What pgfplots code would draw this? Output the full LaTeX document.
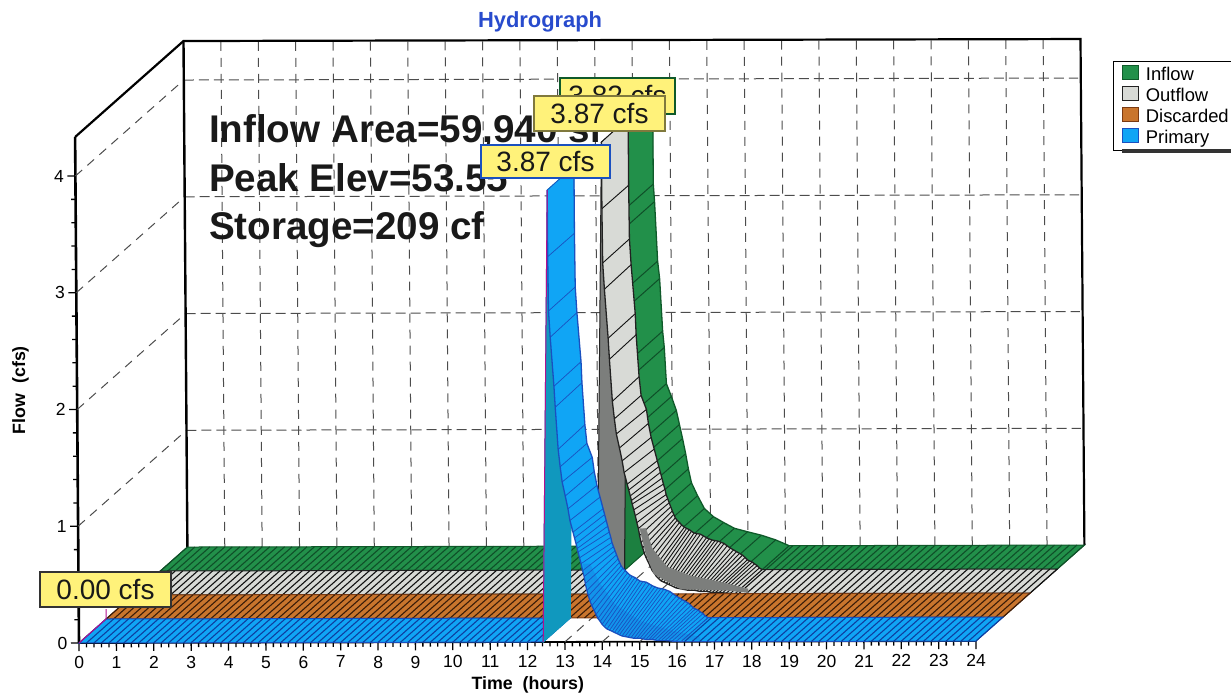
\documentclass[border=0pt]{standalone}
\usepackage{fontspec}
\setmainfont{Liberation Sans}
\usepackage{pgfplots}
\usepackage{pgfplotstable}
\pgfplotsset{compat=1.18}
\usepgfplotslibrary{fillbetween}

\definecolor{greenF}{HTML}{22904A}
\definecolor{greenE}{HTML}{0F5A2A}
\definecolor{greenS}{HTML}{0F4F28}
\definecolor{greenR}{HTML}{1C8040}
\definecolor{grayF}{HTML}{D8DAD6}
\definecolor{grayE}{HTML}{222222}
\definecolor{grayS}{HTML}{111111}
\definecolor{grayR}{HTML}{7C7E7C}
\definecolor{orangeF}{HTML}{C9752D}
\definecolor{orangeE}{HTML}{7A3A12}
\definecolor{orangeS}{HTML}{3A1C08}
\definecolor{blueF}{HTML}{10A5F5}
\definecolor{blueE}{HTML}{1A50C0}
\definecolor{blueS}{HTML}{0D3FA0}
\definecolor{blueR}{HTML}{1098BE}
\definecolor{tagY}{HTML}{FFF27A}

% flat stretches of a ribbon, zero flow
\pgfplotstableread[row sep=\\]{t q\\0 0\\12.42 0\\13.15 .205\\.73 .205\\}\floorleft
\pgfplotstableread[row sep=\\]{t q\\16.1 0\\24 0\\24.73 .205\\16.83 .205\\}\floorright
\pgfplotstableread[row sep=\\]{t q\\0 0\\24 0\\24.73 .205\\.73 .205\\}\floorall
\pgfplotstableread[row sep=\\]{t q\\0 0\\.2 0\\.4 0\\.6 0\\.8 0\\1 0\\1.2 0\\1.4 0\\1.6 0\\1.8 0\\2 0\\2.2 0\\2.4 0\\2.6 0\\2.8 0\\3 0\\3.2 0\\3.4 0\\3.6 0\\3.8 0\\4 0\\4.2 0\\4.4 0\\4.6 0\\4.8 0\\5 0\\5.2 0\\5.4 0\\5.6 0\\5.8 0\\6 0\\6.2 0\\6.4 0\\6.6 0\\6.8 0\\7 0\\7.2 0\\7.4 0\\7.6 0\\7.8 0\\8 0\\8.2 0\\8.4 0\\8.6 0\\8.8 0\\9 0\\9.2 0\\9.4 0\\9.6 0\\9.8 0\\10 0\\10.2 0\\10.4 0\\10.6 0\\10.8 0\\11 0\\11.2 0\\11.4 0\\11.6 0\\11.8 0\\12 0\\12.2 0\\12.4 0\\}\hatchleft
\pgfplotstableread[row sep=\\]{t q\\12.6 0\\12.8 0\\13 0\\13.2 0\\13.4 0\\13.6 0\\13.8 0\\14 0\\14.2 0\\14.4 0\\14.6 0\\14.8 0\\15 0\\15.2 0\\15.4 0\\15.6 0\\15.8 0\\16 0\\}\hatchmid
\pgfplotstableread[row sep=\\]{t q\\16.2 0\\16.4 0\\16.6 0\\16.8 0\\17 0\\17.2 0\\17.4 0\\17.6 0\\17.8 0\\18 0\\18.2 0\\18.4 0\\18.6 0\\18.8 0\\19 0\\19.2 0\\19.4 0\\19.6 0\\19.8 0\\20 0\\20.2 0\\20.4 0\\20.6 0\\20.8 0\\21 0\\21.2 0\\21.4 0\\21.6 0\\21.8 0\\22 0\\22.2 0\\22.4 0\\22.6 0\\22.8 0\\23 0\\23.2 0\\23.4 0\\23.6 0\\23.8 0\\24 0\\}\hatchright

% rising faces
\pgfplotstableread[row sep=\\]{t q\\12.42 0\\12.62 3.87\\13.34 4.075\\13.15 .205\\}\riseP
\pgfplotstableread[row sep=\\]{t q\\12.43 0\\12.54 3.82\\13.27 4.025\\13.16 .205\\}\riseI
% shaded bands along the front of the outflow and primary tails
\pgfplotstableread[row sep=\\]{t q\\15.03 .97\\15.19 .75\\15.40 .58\\16.12 .45\\17.35 .44\\17.91 .42\\17.91 .45\\17.24 .505\\16.36 .565\\15.75 .64\\15.35 .80\\15.19 .97\\}\bandO
\pgfplotstableread[row sep=\\]{t q\\13.50 .67\\13.68 .37\\13.94 .17\\14.66 .04\\15.89 .02\\16.62 .01\\16.62 .04\\15.81 .10\\15.01 .18\\14.35 .32\\13.95 .50\\13.69 .67\\}\bandP

% falling limb: front edge t,q and back edge tb,qb
\pgfplotstableread{
t q tb qb
12.62 3.87 13.34 4.075
12.62 3.30 13.34 3.50
12.63 2.835 13.35 3.04
12.67 2.61 13.39 2.82
12.76 2.19 13.49 2.40
12.79 2.01 13.51 2.22
12.86 1.65 13.58 1.86
12.91 1.50 13.63 1.70
12.96 1.37 13.77 1.58
13.04 1.25 13.82 1.46
13.11 1.14 13.89 1.34
13.16 1.04 13.97 1.24
13.24 .94 14.05 1.14
13.28 .89 14.09 1.09
13.32 .84 14.13 1.04
13.35 .80 14.17 .99
13.37 .77 14.21 .94
13.41 .72 14.25 .895
13.45 .67 14.28 .85
13.49 .61 14.32 .815
13.53 .56 14.36 .78
13.56 .50 14.40 .745
13.60 .44 14.44 .71
13.64 .395 14.48 .68
13.68 .35 14.52 .65
13.73 .31 14.57 .63
13.79 .27 14.63 .61
13.84 .235 14.69 .59
13.89 .20 14.76 .57
13.95 .175 14.82 .56
14.00 .15 14.89 .55
14.06 .13 14.95 .535
14.13 .11 15.02 .52
14.20 .10 15.10 .515
14.27 .09 15.19 .51
14.33 .08 15.27 .495
14.40 .07 15.35 .48
14.46 .06 15.42 .47
14.53 .05 15.50 .46
14.61 .045 15.58 .455
14.69 .04 15.66 .45
14.77 .035 15.74 .44
14.85 .03 15.82 .43
14.93 .03 15.90 .41
15.01 .03 15.99 .39
15.09 .025 16.07 .375
15.17 .02 16.15 .36
15.25 .02 16.23 .345
15.33 .02 16.31 .33
15.41 .015 16.38 .31
15.49 .01 16.44 .29
15.58 .01 16.50 .28
15.68 .01 16.57 .27
15.77 .008 16.63 .255
15.87 .005 16.70 .24
15.98 .003 16.76 .22
16.10 0 16.83 .205
}\tailP
\pgfplotstableread{
t q tb qb
12.54 3.82 13.27 4.025
12.54 3.10 13.27 3.305
12.57 2.95 13.30 3.155
12.64 2.44 13.37 2.645
12.69 2.29 13.42 2.495
12.76 1.84 13.49 2.045
12.80 1.70 13.53 1.905
12.85 1.39 13.58 1.595
12.98 1.28 13.71 1.485
13.11 1.16 13.84 1.365
13.19 1.04 13.92 1.245
13.27 .92 14.00 1.125
13.35 .79 14.08 .995
13.42 .66 14.15 .865
13.50 .54 14.23 .745
13.66 .43 14.39 .635
13.84 .32 14.57 .525
14.08 .25 14.81 .455
14.35 .20 15.08 .405
14.64 .15 15.37 .355
14.99 .12 15.72 .325
15.36 .09 16.09 .295
15.74 .05 16.47 .255
16.10 0 16.83 .205
}\tailI

\tikzset{
  griddash/.style={color=black!70,line width=1pt,dash pattern=on 9pt off 7pt},
  griddashh/.style={color=black!70,line width=1pt,dash pattern=on 10pt off 5pt},
  tag/.style={fill=tagY,line width=1.2pt,inner sep=0pt,font=\fontsize{28}{30}\selectfont,text=black!90},
}

% #1 layer, #2 fill, #3 edge, #4 slat
\newcommand{\flatpart}[5]{%
  \addplot[forget plot,fill=#2,draw=#3,line width=1pt] table[x expr=\thisrow{t}+#1*.73,y expr=\thisrow{q}+#1*.205] #5 -- cycle;
}
\newcommand{\slats}[3]{%
  \addplot[forget plot,quiver={u=.73,v=.205},color=#2,line width=1.1pt,no marks] table[x expr=\thisrow{t}+#1*.73,y expr=\thisrow{q}+#1*.205] #3;
}
% #1 layer, #2 fill, #3 edge, #4 slat, #5 tail table, #6 slat width
\newcommand{\tailpart}[6]{%
  \addplot[forget plot,draw=none,name path=front#1] table[x expr=\thisrow{t}+#1*.73,y expr=\thisrow{q}+#1*.205] #5;
  \addplot[forget plot,draw=none,name path=back#1] table[x expr=\thisrow{tb}+#1*.73,y expr=\thisrow{qb}+#1*.205] #5;
  \addplot[forget plot,fill=#2] fill between[of=front#1 and back#1];
  \addplot[forget plot,quiver={u=\thisrow{tb}-\thisrow{t},v=\thisrow{qb}-\thisrow{q}},color=#4,line width=#6,no marks] table[x expr=\thisrow{t}+#1*.73,y expr=\thisrow{q}+#1*.205] #5;
  \addplot[forget plot,color=#3,line width=1.3pt] table[x expr=\thisrow{t}+#1*.73,y expr=\thisrow{q}+#1*.205] #5;
  \addplot[forget plot,color=#3,line width=1.3pt] table[x expr=\thisrow{tb}+#1*.73,y expr=\thisrow{qb}+#1*.205] #5;
}

\begin{document}
\begin{tikzpicture}
\begin{axis}[
    anchor=origin, at={(0pt,0pt)},
    x={(37.375pt,0.083pt)}, y={(-0.9pt,116.75pt)},
    xmin=0, xmax=24, ymin=0, ymax=4.334,
    clip=false,
    axis x line*=bottom, axis y line*=left,
    x axis line style={line width=1.8pt},
    y axis line style={line width=2.6pt},
    xtick={0,...,24}, ytick={0,...,4},
    minor x tick num=4, minor y tick num=4,
    tick align=outside,
    major tick length=8pt, minor tick length=4.5pt,
    tick style={black,line width=1.3pt},
    minor tick style={black,line width=1.3pt},
    tick label style={font=\fontsize{17.5}{18}\selectfont},
    /pgf/number format/assume math mode=true,
    xticklabel style={yshift=-2pt},
    xlabel={\bfseries Time~~(hours)},
    ylabel={\bfseries Flow~~(cfs)},
    label style={font=\fontsize{17.8}{20}\selectfont},
    xlabel style={yshift=-2pt},
    ylabel style={yshift=20pt},
    title={Hydrograph},
    title style={at={(axis cs:12.46,5.14)},anchor=south,font=\fontsize{21.9}{24}\selectfont\bfseries,text={rgb,255:red,40;green,75;blue,205}},
    fill between/on layer=main,
    legend style={at={(axis cs:27.79,4.965)},anchor=north west,draw=black,line width=1.2pt,fill=white,
      font=\fontsize{18.4}{20}\selectfont,row sep=1.2pt,inner xsep=8pt,inner ysep=3pt,
      nodes={inner sep=0pt,text height=14pt,text depth=4pt}},
    legend cell align=left,
    legend image code/.code={\draw[#1,line width=1.6pt] (0pt,-4pt) rectangle (16pt,10pt);},
]
% walls
\pgfplotsinvokeforeach{1,...,23}{
  \draw[griddash] (axis cs:#1+2.92,.82) -- (axis cs:#1+2.92,5.154);
  \draw[griddash] (axis cs:#1,0) -- (axis cs:#1+2.92,.82);
}
\pgfplotsinvokeforeach{1,...,4}{
  \draw[griddashh] (axis cs:2.92,#1+.82) -- (axis cs:26.85,#1+.82);
  \draw[griddash] (axis cs:0,#1) -- (axis cs:2.92,#1+.82);
}
\draw[black,line width=2.2pt] (axis cs:0,4.334) -- (axis cs:2.92,5.154) -- (axis cs:26.92,5.154) -- (axis cs:26.92,.82);
\draw[black,line width=2.4pt] (axis cs:2.92,5.154) -- (axis cs:2.92,.82);

% inflow
\flatpart{3}{greenF}{greenE}{greenS}{\floorleft}
\slats{3}{greenS}{\hatchleft}
\flatpart{3}{greenF}{greenE}{greenS}{\floorright}
\slats{3}{greenS}{\hatchright}
\flatpart{3}{greenR}{greenE}{greenS}{\riseI}
\tailpart{3}{greenF}{greenE}{greenS}{\tailI}{1pt}
% outflow
\flatpart{2}{grayF}{grayE}{grayS}{\floorleft}
\slats{2}{grayS}{\hatchleft}
\flatpart{2}{grayF}{grayE}{grayS}{\floorright}
\slats{2}{grayS}{\hatchright}
\flatpart{2}{grayR}{grayE}{grayS}{\riseP}
\tailpart{2}{grayF}{grayE}{grayS}{\tailP}{.9pt}
\addplot[forget plot,fill=grayR,draw=grayR] table[x=t,y=q] \bandO -- cycle;
% discarded
\flatpart{1}{orangeF}{orangeE}{orangeS}{\floorall}
\slats{1}{orangeS}{\hatchleft}
\slats{1}{orangeS}{\hatchmid}
\slats{1}{orangeS}{\hatchright}
% primary
\flatpart{0}{blueF}{blueE}{blueS}{\floorleft}
\slats{0}{blueS}{\hatchleft}
\flatpart{0}{blueF}{blueE}{blueS}{\floorright}
\slats{0}{blueS}{\hatchright}
\flatpart{0}{blueR}{blueR}{blueS}{\riseP}
\tailpart{0}{blueF}{blueE}{blueE}{\tailP}{.7pt}
\addplot[forget plot,fill=blueE,draw=none,fill opacity=.2] table[x=t,y=q] \bandP -- cycle;
\addplot[forget plot,color=magenta!70!blue,line width=1pt] coordinates {(.73,.29) (.73,.205) (0,0)};
\addplot[forget plot,color=magenta!70!blue,line width=1pt] coordinates {(12.42,0) (12.62,3.87)};

\addlegendimage{fill=greenF,draw=greenE}\addlegendentry{\hspace{6.5pt}Inflow}
\addlegendimage{fill=grayF,draw=grayE}\addlegendentry{\hspace{6.5pt}Outflow}
\addlegendimage{fill=orangeF,draw=orangeE}\addlegendentry{\hspace{6.5pt}Discarded}
\addlegendimage{fill=blueF,draw=blueE}\addlegendentry{\hspace{6.5pt}Primary}
\end{axis}

% shadow under the legend
\fill[black!80] (1043pt,490pt) rectangle (1152pt,494pt);

% annotation text and peak tags
\node[anchor=base west,font=\fontsize{38.6}{40}\selectfont\bfseries,text=black!90] at (126.5pt,500pt) {Inflow Area=59,940 sf};
\node[anchor=base west,font=\fontsize{38.6}{40}\selectfont\bfseries,text=black!90] at (126.5pt,451pt) {Peak Elev=53.55'};
\node[anchor=base west,font=\fontsize{38.6}{40}\selectfont\bfseries,text=black!90] at (126.5pt,403pt) {Storage=209 cf};

\node[tag,draw=greenE,minimum width=115pt,minimum height=36pt] at (538.5pt,547pt) {3.82 cfs};
\node[tag,draw=black!50!tagY,minimum width=131pt,minimum height=35pt] at (520.5pt,529.5pt) {3.87 cfs};
\node[tag,draw=blueE,minimum width=129pt,minimum height=33pt] at (466.5pt,481.5pt) {3.87 cfs};
\node[tag,draw=black!80,minimum width=131pt,minimum height=35pt] at (26.5pt,53.5pt) {0.00 cfs};
\pgfresetboundingbox
\path[use as bounding box] (-79pt,-51pt) rectangle (1152pt,643pt);
\end{tikzpicture}
\end{document}
